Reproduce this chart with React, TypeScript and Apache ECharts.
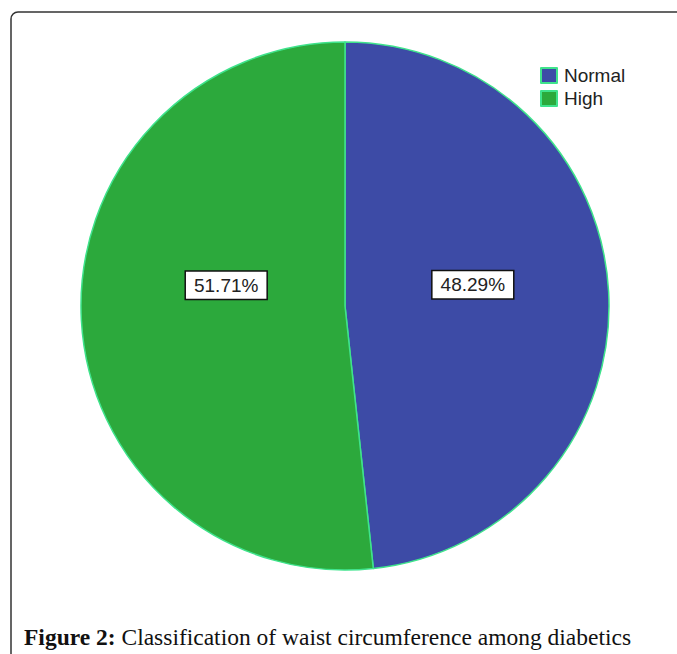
import React, { useEffect, useRef } from "react";
import * as echarts from "echarts";

const categories = ["Normal", "High"];
const percentValues = [48.29, 51.71];
const sliceColors = ["#3d4ba6", "#2ca93c"];
const labelOffsets = [[-7, -14], [16, -28]];
const captionBold = "Figure 2:";
const captionText = " Classification of waist circumference among diabetics";

export default function App() {
  const ref = useRef<HTMLDivElement>(null);
  useEffect(() => {
    const chart = echarts.init(ref.current!, null, { renderer: "svg" });
    chart.setOption({
      animation: false,
      backgroundColor: "#ffffff",
      legend: {
        orient: "vertical",
        left: 535,
        top: 61,
        itemWidth: 16,
        itemHeight: 15,
        itemGap: 4,
        icon: "rect",
        data: categories,
        textStyle: { fontFamily: "Liberation Sans", fontSize: 19, color: "#222", padding: [0, 0, 0, 2] },
      },
      graphic: [
        {
          type: "rect",
          shape: { x: 11, y: 12, width: 800, height: 800, r: [7, 0, 0, 0] },
          style: { fill: "none", stroke: "#333", lineWidth: 1.5 },
          silent: true,
        },
        {
          type: "text",
          left: 24,
          top: 625,
          style: {
            text: "{b|" + captionBold + "}{n|" + captionText + "}",
            rich: {
              b: { fontFamily: "Liberation Serif", fontWeight: "bold", fontSize: 23.5, fill: "#111" },
              n: { fontFamily: "Liberation Serif", fontSize: 23.5, fill: "#111" },
            },
          },
        },
      ],
      series: [
        {
          type: "pie",
          center: [345, 306],
          radius: 264,
          startAngle: 90,
          clockwise: true,
          avoidLabelOverlap: false,
          itemStyle: { borderColor: "#3fe38c", borderWidth: 1.5 },
          label: {
            show: true,
            position: "inside",
            formatter: (p: any) => Number(p.value).toFixed(2) + "%",
            fontFamily: "Liberation Sans",
            fontSize: 19,
            lineHeight: 20,
            color: "#222",
            backgroundColor: "#ffffff",
            borderColor: "#111",
            borderWidth: 1.5,
            padding: [4, 8, 3, 8],
          },
          labelLine: { show: false },
          emphasis: { disabled: true },
          data: categories.map((name, i) => ({
            name,
            value: percentValues[i],
            itemStyle: { color: sliceColors[i] },
            label: { offset: labelOffsets[i] },
          })),
        },
      ],
    });
    return () => chart.dispose();
  }, []);
  return (
    <div
      ref={ref}
      style={{ position: "fixed", left: 0, top: 0, width: 677, height: 654 }}
    />
  );
}
